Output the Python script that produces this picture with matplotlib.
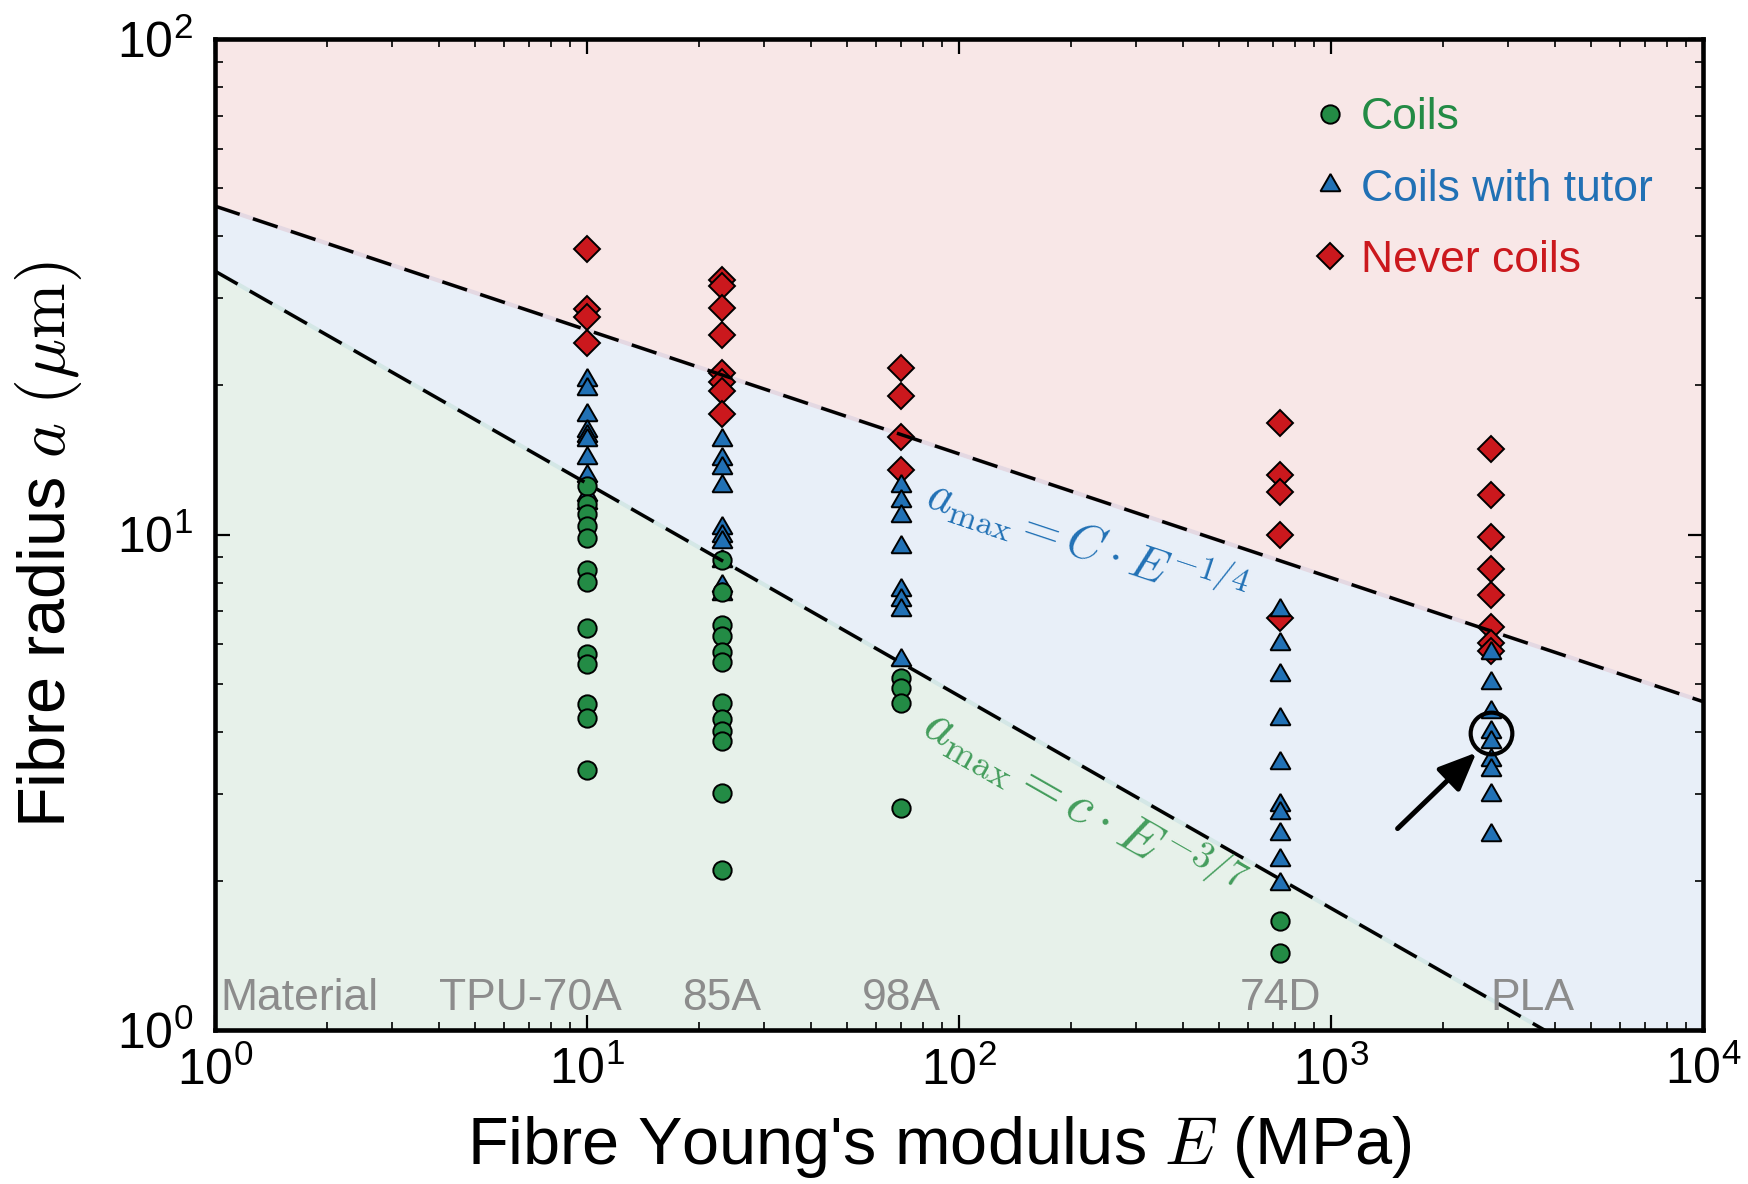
import numpy as np
import matplotlib
matplotlib.use('Agg')
import matplotlib.pyplot as plt

plt.rcParams['font.family'] = ['Liberation Sans', 'DejaVu Sans']
plt.rcParams['mathtext.fontset'] = 'cm'

# --- data -------------------------------------------------------------
materials = ['TPU-70A', '85A', '98A', '74D', 'PLA']
modulus = [10, 23, 70, 730, 2700]          # E in MPa

coils = [
    [12.5, 11.5, 11.0, 10.4, 9.86, 8.47, 8.03, 6.49, 5.73, 5.48, 4.55, 4.27, 3.35],
    [8.88, 7.66, 6.56, 6.25, 5.79, 5.52, 4.57, 4.25, 4.02, 3.83, 3.01, 2.10],
    [5.13, 4.89, 4.56, 2.80],
    [1.66, 1.43],
    [],
]
tutor = [
    [20.5, 19.7, 17.4, 16.2, 15.8, 15.5, 14.3, 13.1, 12.0, 11.6],
    [15.5, 14.2, 13.6, 12.5, 10.3, 9.93, 9.65, 8.84, 7.88, 7.59],
    [12.5, 11.7, 10.9, 9.45, 7.73, 7.38, 7.04, 5.58],
    [7.04, 6.0, 5.20, 4.24, 3.46, 2.84, 2.74, 2.49, 2.20, 1.97],
    [5.76, 5.01, 4.39, 4.0, 3.82, 3.51, 3.35, 2.98, 2.47],
]
never = [
    [37.7, 28.5, 27.5, 24.4],
    [32.7, 31.7, 28.6, 25.3, 21.2, 20.3, 19.5, 17.5],
    [21.7, 19.0, 15.7, 13.5],
    [16.8, 13.2, 12.2, 10.0, 6.79],
    [14.9, 12.0, 9.90, 8.52, 7.55, 6.52, 6.05, 5.83],
]

C_upper, exp_upper = 46.0, -1 / 4
c_lower, exp_lower = 34.0, -3 / 7

highlight = (2700, 3.97)     # circled sample

# --- colours -----------------------------------------------------------
green, blue, red = '#238b45', '#2171b5', '#cb181d'
bg_red, bg_blue, bg_green = '#f8e7e7', '#e8eff8', '#e7f1ea'


def flat(groups):
    x = np.repeat(modulus, [len(g) for g in groups])
    y = np.concatenate([np.asarray(g, float) for g in groups])
    return x, y


fig = plt.figure(figsize=(17.49, 11.84), dpi=100)
ax = fig.add_axes([215 / 1749, 1 - 1030 / 1184, 1488 / 1749, 991 / 1184])
ax.set_xscale('log')
ax.set_yscale('log')
ax.set_xlim(1, 1e4)
ax.set_ylim(1, 100)

E = np.logspace(0, 4, 400)
upper = C_upper * E ** exp_upper
lower = c_lower * E ** exp_lower
ax.fill_between(E, upper, 1e3, color=bg_red, lw=0, zorder=0)
ax.fill_between(E, lower, upper, color=bg_blue, lw=0, zorder=0)
ax.fill_between(E, 0.1, lower, color=bg_green, lw=0, zorder=0)
ax.plot(E, upper, color='#e4d8e2', lw=3, zorder=1)
ax.plot(E, lower, color='#d4e7e6', lw=3, zorder=1)

mk = dict(ls='none', mec='k', mew=1.4)
x, y = flat(never)
ax.plot(x, y, marker='D', ms=13.6, mfc=red, color=red, label='Never coils', zorder=3, **mk)
x, y = flat(tutor)
ax.plot(x, y, marker=(3, 0, 0), ms=16.6, mfc=blue, color=blue, label='Coils with tutor', zorder=4, **mk)
x, y = flat(coils)
ax.plot(x, y, marker='o', ms=13.2, mfc=green, color=green, label='Coils', zorder=5, **mk)

ax.plot(E, upper, color='k', lw=2.5, dashes=(7.5, 4), zorder=6)
ax.plot(E, lower, color='k', lw=2.5, dashes=(7.5, 4), zorder=6)

# highlight + arrow
ax.plot(*highlight, marker='o', ms=30, mfc='none', mec='k', mew=3, zorder=7)
ax.annotate('', xy=(2460, 3.63), xytext=(1510, 2.55),
            arrowprops=dict(arrowstyle='-|>,head_length=0.42,head_width=0.18',
                            color='k', lw=3.6, mutation_scale=55, shrinkA=0, shrinkB=0),
            zorder=7)


# rotated formula labels
def slope_angle(k, p):
    pts = ax.transData.transform([[1, k], [1e4, k * 1e4 ** p]])
    d = pts[1] - pts[0]
    return np.degrees(np.arctan2(d[1], d[0]))


ax.text(221, 9.7, r'$a_{\max} = C\cdot E^{-1/4}$', color=blue, fontsize=35,
        rotation=slope_angle(C_upper, exp_upper), ha='center', va='center',
        rotation_mode='anchor', zorder=8)
ax.text(217, 2.87, r'$a_{\max} = c\cdot E^{-3/7}$', color='#449d5c', fontsize=39,
        rotation=slope_angle(c_lower, exp_lower), ha='center', va='center',
        rotation_mode='anchor', zorder=8)

# material names along the bottom
trans = ax.get_xaxis_transform()
label_x = [1.69, 7.03, 23, 70, 730, 3470]
for xx, name in zip(label_x, ['Material'] + materials):
    ax.text(xx, 0.02, name, transform=trans, ha='center', va='baseline',
            fontsize=32, color='#8c8c8c', zorder=8)

ax.set_xlabel(r"Fibre Young's modulus $E$ (MPa)", fontsize=48)
ax.set_ylabel(r'Fibre radius $a$ $(\mu\mathrm{m})$', fontsize=48)
ax.xaxis.set_label_coords(0.487, -0.085)
ax.yaxis.set_label_coords(-0.088, 0.49)

ax.tick_params(which='both', direction='in', top=True, right=True, labelsize=36)
ax.tick_params(which='major', length=11, width=1.6)
ax.tick_params(which='minor', length=5.5, width=1.2)
ax.tick_params(axis='x', pad=12)
ax.tick_params(axis='y', pad=16)
for s in ax.spines.values():
    s.set_linewidth(3.3)

h, l = ax.get_legend_handles_labels()
order = [l.index('Coils'), l.index('Coils with tutor'), l.index('Never coils')]
leg = ax.legend([h[i] for i in order], [l[i] for i in order],
                loc='upper left', bbox_to_anchor=(0.7406, 0.941), frameon=False,
                fontsize=32, handlelength=0.6, handletextpad=0.38, labelspacing=0.68,
                borderpad=0, borderaxespad=0, numpoints=1, labelcolor='markerfacecolor')
leg.set_zorder(9)

fig.savefig('out.png', dpi=100)
